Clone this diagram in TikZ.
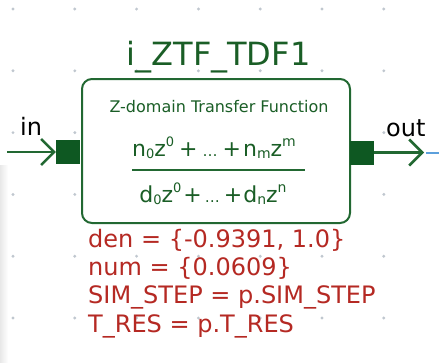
\documentclass[tikz,border=0pt]{standalone}
\usepackage{fontspec}
\setmainfont{DejaVu Sans}
\usetikzlibrary{arrows.meta}
\definecolor{blkgreen}{RGB}{34,104,50}
\definecolor{portgreen}{RGB}{14,88,34}
\definecolor{titlegreen}{RGB}{26,94,38}
\definecolor{paramred}{RGB}{181,41,35}
\definecolor{griddot}{RGB}{192,199,207}
\definecolor{netblue}{RGB}{92,160,220}
\newcommand{\fsz}[1]{\fontsize{#1}{1.2\dimexpr#1pt\relax}\selectfont}
% indices of the transfer function
\newcommand{\lowdig}[1]{\raisebox{-2pt}{\fontsize{13}{13}\selectfont #1}}
\newcommand{\highdig}[1]{\raisebox{10pt}{\fontsize{13}{13}\selectfont #1}}
\newcommand{\lowlet}[1]{\raisebox{-2pt}{\fontsize{14}{14}\selectfont #1}}
\newcommand{\highlet}[1]{\raisebox{10pt}{\fontsize{14}{14}\selectfont #1}}
\newcommand{\smalldots}{{\fontsize{15}{15}\selectfont …}}
\tikzset{
  blockbox/.style={draw=blkgreen, line width=2pt, fill=white, rounded corners=10pt,
    minimum width=268pt, minimum height=144pt, inner sep=0pt},
  portsq/.style={fill=portgreen, draw=none, minimum size=24pt, inner sep=0pt},
  wire/.style={draw=blkgreen, line width=2.5pt,
    -{Straight Barb[length=13pt, width=26pt, line width=2.5pt]}},
  netline/.style={draw=netblue, line width=2pt},
  fractxt/.style={text=titlegreen, anchor=base, inner sep=0pt, font=\fsz{22}},
  paramtxt/.style={text=paramred, anchor=base west, inner sep=0pt, font=\fsz{24}},
  pinlabel/.style={text=black, anchor=base west, inner sep=0pt, font=\fsz{24}},
}
\begin{document}
\begin{tikzpicture}[x=1pt, y=-1pt]
  \useasboundingbox (0,0) rectangle (439,362);
  \fill[white] (0,0) rectangle (439,362);
  % faint page edge on the lower left
  \shade[left color=black!9, right color=white] (0,165) rectangle (8,362);

  % placement grid
  \foreach \i in {0,...,6}
    \foreach \j in {0,...,5}
      \fill[griddot] (13+61.8*\i, 9+61.8*\j) circle (1.6pt);

  % block body and ports
  \node[blockbox] (blk) at (216,151) {};
  \node[portsq] (pin) at (68,152) {};
  \node[portsq] (pout) at (362,152.5) {};

  % block name
  \node[text=titlegreen, anchor=base, inner sep=0pt, font=\fsz{32}] (title) at (218.5,65) {i\_ZTF\_TDF1};

  % block content
  \node[text=titlegreen, anchor=base, inner sep=0pt, font=\fsz{16}] (kind) at (219,112) {Z-domain Transfer Function};
  \node[fractxt] (numer) at (214,156)
    {n\lowdig{0}z\highdig{0}\hspace{5pt}+\hspace{5pt}\smalldots\hspace{5pt}+\hspace{2pt}n\lowlet{m}z\highlet{m}};
  \draw[blkgreen, line width=2.5pt] (132,170) -- (305,170);
  \node[fractxt] (denom) at (213,202)
    {d\lowdig{0}z\highdig{0}\hspace{2pt}+\hspace{3pt}\smalldots\hspace{4pt}+\hspace{1pt}d\lowlet{n}z\highlet{n}};

  % pin names
  \node[pinlabel] (inlbl) at (20,135) {in};
  \node[pinlabel] (outlbl) at (386,136) {out};

  % connections
  \coordinate (src) at (7,152);
  \coordinate (dst) at (424,152.5);
  \coordinate (netA) at (426,152.5);
  \coordinate (netB) at (439,152.5);
  \draw[wire] (src) -- (pin.west);
  \draw[wire] (pout.east) -- (dst);
  \draw[netline] (netA) -- (netB);

  % parameters
  \node[paramtxt] (pden) at (88,247) {den = \{-0.9391, 1.0\}};
  \node[paramtxt] (pnum) at (88,275) {num = \{0.0609\}};
  \node[paramtxt] (pstep) at (88,303) {SIM\_STEP = p.SIM\_STEP};
  \node[paramtxt] (pres) at (88,332) {T\_RES = p.T\_RES};
\end{tikzpicture}
\end{document}
